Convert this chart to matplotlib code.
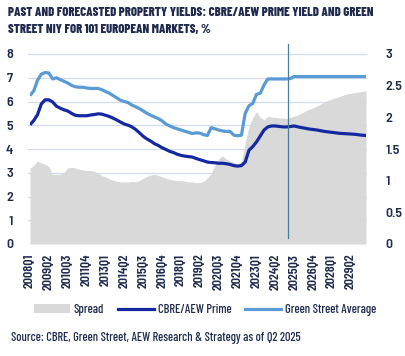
import matplotlib
matplotlib.use("Agg")
import matplotlib.pyplot as plt
from matplotlib.patches import Patch
from matplotlib.lines import Line2D

quarters = [f"{y}Q{q}" for y in range(2008, 2031) for q in range(1, 5)][:90]

green_street = [
    6.25, 6.45, 6.9, 7.15, 7.22, 7.2, 6.95, 7.0, 6.92, 6.85,
    6.78, 6.68, 6.62, 6.6, 6.6, 6.57, 6.55, 6.55, 6.55, 6.5,
    6.42, 6.35, 6.25, 6.15, 6.05, 6.0, 5.95, 5.85, 5.78, 5.7,
    5.6, 5.5, 5.42, 5.35, 5.28, 5.18, 5.05, 4.97, 4.9, 4.85,
    4.8, 4.75, 4.7, 4.65, 4.68, 4.67, 4.6, 4.57, 4.9, 4.85,
    4.8, 4.76, 4.74, 4.74, 4.58, 4.56, 4.58, 5.5, 5.82, 5.92,
    6.3, 6.35, 6.7, 6.95, 6.95, 6.95, 6.95, 6.95, 6.95, 6.97,
    7.05, 7.05, 7.05, 7.05, 7.05, 7.05, 7.05, 7.05, 7.05, 7.05,
    7.05, 7.05, 7.05, 7.05, 7.05, 7.05, 7.05, 7.05, 7.05, 7.05,
]

cbre_prime = [
    5.02, 5.2, 5.45, 5.9, 6.07, 6.07, 5.98, 5.8, 5.72, 5.65,
    5.6, 5.5, 5.42, 5.4, 5.4, 5.4, 5.43, 5.45, 5.48, 5.47,
    5.42, 5.37, 5.3, 5.22, 5.13, 5.05, 5.0, 4.93, 4.82, 4.68,
    4.53, 4.42, 4.33, 4.22, 4.15, 4.05, 3.98, 3.9, 3.85, 3.78,
    3.73, 3.7, 3.68, 3.66, 3.6, 3.55, 3.5, 3.45, 3.43, 3.42,
    3.4, 3.4, 3.38, 3.35, 3.3, 3.28, 3.3, 3.45, 3.95, 4.1,
    4.3, 4.55, 4.8, 4.93, 4.97, 4.97, 4.95, 4.93, 4.93, 4.95,
    4.97, 4.93, 4.9, 4.87, 4.84, 4.82, 4.8, 4.77, 4.74, 4.72,
    4.7, 4.68, 4.66, 4.65, 4.64, 4.63, 4.62, 4.6, 4.58, 4.57,
]

spread = [
    1.2, 1.24, 1.31, 1.28, 1.26, 1.22, 1.1, 1.1, 1.1, 1.13,
    1.2, 1.21, 1.2, 1.18, 1.17, 1.16, 1.16, 1.15, 1.12, 1.08,
    1.06, 1.03, 1.01, 0.99, 0.98, 0.98, 0.98, 0.99, 0.98, 1.0,
    1.04, 1.07, 1.09, 1.1, 1.08, 1.06, 1.04, 1.02, 1.01, 1.0,
    1.0, 0.99, 0.98, 0.98, 0.97, 0.97, 0.99, 1.04, 1.12, 1.25,
    1.35, 1.39, 1.34, 1.31, 1.29, 1.27, 1.3, 1.6, 1.85, 2.0,
    2.09, 2.0, 1.96, 2.02, 2.0, 2.0, 1.99, 1.99, 1.98, 2.0,
    2.02, 2.04, 2.07, 2.1, 2.13, 2.15, 2.18, 2.21, 2.24, 2.27,
    2.29, 2.31, 2.33, 2.35, 2.37, 2.38, 2.39, 2.4, 2.41, 2.42,
]

left_ticks = [0, 1, 2, 3, 4, 5, 6, 7, 8]
right_ticks = [0, 0.5, 1, 1.5, 2, 2.5, 3]
right_labels = ["0", "0.5", "1", "1.5", "2", "2.5", "3"]
forecast_start = 68.4

TXT = "#1f2a4d"
TITLE_FONT = ["Barlow Condensed", "DejaVu Sans"]
BODY_FONT = ["Barlow Semi Condensed", "DejaVu Sans"]
plt.rcParams["font.family"] = BODY_FONT

W, H = 405, 356
fig = plt.figure(figsize=(W / 100, H / 100), dpi=100)
ax = fig.add_axes([30 / W, 112 / H, 336 / W, 190 / H])
ax2 = ax.twinx()

x = list(range(len(quarters)))

# gridlines (behind the spread area), drawn on the right axis scale
for v in left_ticks[1:]:
    ax2.plot([-0.5, len(quarters) - 1], [v * 3 / 8] * 2, color="#d3daf2", lw=0.9,
             zorder=0.5, clip_on=False)
ax2.fill_between(x, 0, spread, color="#d9d9d9", lw=0, zorder=1)
ax2.set_ylim(0, 3)
ax2.set_yticks(right_ticks)
ax2.set_yticklabels(right_labels)

ax.set_zorder(ax2.get_zorder() + 1)
ax.patch.set_visible(False)
ax.plot(x, green_street, color="#5b9bd5", lw=2.3, solid_capstyle="butt", zorder=4)
ax.plot(x, cbre_prime, color="#1428a0", lw=2.3, solid_capstyle="butt", zorder=5)
ax.set_ylim(0, 8)
ax.set_yticks(left_ticks)
ax.set_xlim(0, len(quarters) - 1)

ax.axvline(forecast_start, ymin=0.03, ymax=1.053, color="#4a7d9b", lw=0.9,
           clip_on=False, zorder=6)

ax.set_xticks(x[::5])
ax.set_xticklabels(quarters[::5], rotation=90, color=TXT,
                   fontdict={"family": TITLE_FONT, "size": 8.5, "weight": "semibold"})
for a in (ax, ax2):
    for s in a.spines.values():
        s.set_visible(False)
    a.tick_params(length=0, colors=TXT, labelsize=10)
ax.tick_params(axis="y", pad=12)
ax2.tick_params(axis="y", pad=14)
ax.tick_params(axis="x", pad=7)
for lab in ax.get_yticklabels() + ax2.get_yticklabels():
    lab.set_fontweight("semibold")

fig.text(8 / W, 1 - 16 / H, "PAST AND FORECASTED PROPERTY YIELDS: CBRE/AEW PRIME YIELD AND GREEN",
         fontsize=9.2, fontweight="heavy", color=TXT, ha="left", va="baseline", family=TITLE_FONT)
fig.text(8 / W, 1 - 33 / H, "STREET NIY FOR 101 EUROPEAN MARKETS, %",
         fontsize=9.2, fontweight="heavy", color=TXT, ha="left", va="baseline", family=TITLE_FONT)

handles = [
    Patch(facecolor="#d9d9d9", edgecolor="none", label="Spread"),
    Line2D([], [], color="#1428a0", lw=2.3, label="CBRE/AEW Prime"),
    Line2D([], [], color="#5b9bd5", lw=2.3, label="Green Street Average"),
]
leg = fig.legend(handles=handles, loc="center", bbox_to_anchor=(205 / W, 1 - 310 / H),
                 ncol=3, frameon=False, handlelength=2.9, handleheight=0.7,
                 columnspacing=1.1, handletextpad=0.3,
                 prop={"family": TITLE_FONT, "weight": "medium", "size": 9})
for t in leg.get_texts():
    t.set_color(TXT)

fig.text(11 / W, 1 - 341 / H, "Source: CBRE, Green Street, AEW Research & Strategy as of Q2 2025",
         fontsize=8.9, fontweight="medium", color=TXT, ha="left", va="baseline", family=TITLE_FONT)

fig.savefig("out.png", dpi=100, facecolor="white")
